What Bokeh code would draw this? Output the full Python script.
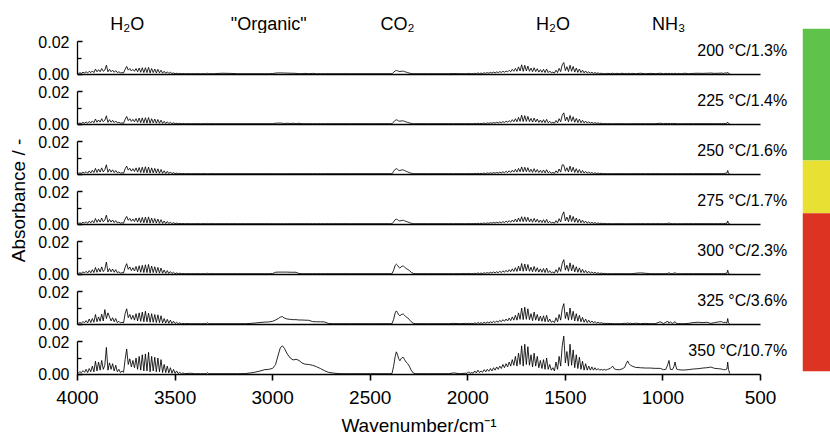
import numpy as np
from bokeh.plotting import figure
from bokeh.models import Range1d, LinearAxis, FixedTicker, PrintfTickFormatter
from bokeh.layouts import row, column
from bokeh.embed import file_html
from bokeh.resources import INLINE
from bokeh.core.properties import value

FONT = "Liberation Sans"

# ---------------------------------------------------------------- data
panel_labels = ["200 °C/1.3%", "225 °C/1.4%", "250 °C/1.6%", "275 °C/1.7%",
                "300 °C/2.3%", "325 °C/3.6%", "350 °C/10.7%"]
band_labels = ["H\u2082O", "\"Organic\"", "CO\u2082", "H\u2082O", "NH\u2083"]
band_centres = [3745, 3020, 2360, 1563, 971]
wavenumber_ticks = [4000, 3500, 3000, 2500, 2000, 1500, 1000, 500]
x_title = "Wavenumber/cm\u207b\u00b9"
y_title = "Absorbance / -"
stability_colours = ["#5fc34b", "#e9e034", "#dc3323"]

# sampling grids (cm-1); absorbance values below are in milli-absorbance units
water_hi_wn = np.arange(3996, 3451, -8)          # 69 points
water_lo_wn = np.arange(2004, 1291, -8)          # 90 points
mid_wn = [3444, 3420, 3400, 3370, 3340, 3334, 3328, 3300, 3260, 3220,
          3180, 3140, 3100, 3070, 3040, 3020, 3000, 2985, 2970, 2960,
          2950, 2940, 2925, 2910, 2895, 2880, 2865, 2850, 2835, 2815,
          2795, 2775, 2755, 2735, 2715, 2695, 2675, 2650, 2600, 2500,
          2400, 2388, 2380, 2372, 2366, 2360, 2354, 2348, 2342, 2336,
          2330, 2324, 2316, 2308, 2300, 2290, 2280, 2270, 2200, 2100,
          2072, 2040, 2012]
tail_wn = [1284, 1270, 1258, 1248, 1236, 1222, 1210, 1196, 1188, 1181,
           1174, 1166, 1158, 1140, 1116, 1090, 1065, 1040, 1014, 997,
           985, 975, 969, 962, 952, 944, 938, 930, 920, 905,
           890, 870, 845, 820, 795, 775, 755, 735, 715, 700,
           690, 680, 672, 668, 664, 658]

# 200 °C
hi_200 = [0.5, 0.8, 0.6, 1.2, 0.8, 1.5, 0.8, 1.8, 1.0, 2.0,
          1.0, 3.2, 1.5, 2.8, 1.5, 3.5, 1.8, 2.5, 5.5, 1.5,
          3.0, 1.5, 2.5, 1.2, 2.2, 1.0, 1.5, 0.8, 1.0, 0.8,
          3.0, 4.8, 2.5, 3.5, 2.0, 3.0, 1.8, 3.5, 1.5, 3.8,
          1.2, 4.0, 1.0, 4.0, 1.0, 4.2, 0.8, 3.5, 1.0, 3.2,
          0.8, 3.0, 0.8, 2.5, 0.6, 1.8, 0.5, 1.5, 0.5, 1.2,
          0.4, 0.8, 0.3, 0.6, 0.3, 0.5, 0.3, 0.4, 0.3]
mid_200 = [0.3, 0.3, 0.3, 0.3, 0.3, 0.6, 0.3, 0.3, 0.6, 0.5,
           0.3, 0.3, 0.3, 0.3, 0.3, 0.3, 0.4, 0.7, 0.8, 0.8,
           0.8, 0.7, 0.7, 0.6, 0.6, 0.5, 0.3, 0.3, 0.5, 0.3,
           0.5, 0.3, 0.3, 0.3, 0.3, 0.3, 0.3, 0.3, 0.3, 0.3,
           0.3, 0.3, 1.2, 2.0, 2.3, 2.1, 1.8, 1.6, 1.8, 1.9,
           1.8, 1.6, 1.3, 1.0, 0.7, 0.4, 0.3, 0.3, 0.3, 0.3,
           0.4, 0.3, 0.3]
lo_200 = [0.3, 0.5, 0.3, 0.4, 0.3, 0.6, 0.3, 0.8, 0.4, 0.7,
          0.4, 0.9, 0.5, 1.0, 0.6, 1.1, 0.7, 1.3, 0.8, 1.4,
          1.0, 1.6, 1.1, 1.8, 1.2, 2.0, 1.4, 2.4, 1.5, 3.0,
          1.8, 3.6, 1.8, 4.5, 2.0, 5.8, 1.8, 5.5, 2.0, 5.0,
          1.8, 3.8, 1.5, 4.0, 1.6, 3.4, 1.3, 2.8, 1.2, 3.0,
          1.0, 3.2, 1.0, 2.0, 0.8, 1.3, 0.7, 2.5, 1.0, 3.6,
          1.6, 5.8, 7.2, 2.2, 4.6, 1.6, 5.5, 1.8, 4.8, 1.3,
          3.8, 1.1, 3.2, 1.0, 2.5, 0.8, 2.0, 0.7, 1.5, 0.6,
          1.2, 0.5, 1.0, 0.5, 0.8, 0.4, 0.6, 0.3, 0.4, 0.3]
tail_200 = [0.5, 0.3, 0.6, 0.3, 0.5, 0.3, 0.6, 0.3, 0.5, 0.3,
            0.6, 0.3, 0.5, 0.3, 0.6, 0.3, 0.5, 0.3, 0.6, 0.3,
            0.5, 0.3, 0.6, 0.3, 0.5, 0.3, 0.6, 0.3, 0.5, 0.3,
            0.6, 0.3, 0.5, 0.6, 0.5, 0.6, 0.7, 0.5, 0.6, 0.7,
            0.5, 0.8, 0.6, 1.2, 0.5, 0.3]

# 225 °C
hi_225 = [0.5, 0.7, 0.5, 1.1, 0.6, 1.4, 0.6, 1.7, 0.8, 2.0,
          0.9, 3.2, 1.2, 2.6, 1.3, 3.4, 1.5, 2.4, 5.2, 1.1,
          2.8, 1.2, 2.4, 1.0, 2.0, 0.8, 1.2, 0.6, 0.8, 0.6,
          3.0, 4.8, 2.2, 3.4, 1.7, 3.0, 1.5, 3.4, 1.2, 3.8,
          0.9, 3.9, 0.8, 4.0, 0.7, 4.1, 0.6, 3.4, 0.8, 3.2,
          0.6, 2.9, 0.6, 2.5, 0.5, 1.8, 0.4, 1.5, 0.4, 1.2,
          0.3, 0.9, 0.3, 0.6, 0.3, 0.5, 0.3, 0.4, 0.3]
mid_225 = [0.3, 0.3, 0.3, 0.3, 0.3, 0.5, 0.3, 0.3, 0.3, 0.3,
           0.3, 0.3, 0.3, 0.3, 0.3, 0.3, 0.3, 0.6, 0.7, 0.7,
           0.6, 0.4, 0.6, 0.4, 0.6, 0.3, 0.6, 0.3, 0.3, 0.3,
           0.3, 0.3, 0.3, 0.3, 0.3, 0.3, 0.3, 0.3, 0.3, 0.3,
           0.3, 0.3, 1.4, 2.4, 2.7, 2.4, 2.0, 1.8, 2.0, 2.1,
           2.0, 1.8, 1.4, 1.1, 0.8, 0.5, 0.3, 0.3, 0.3, 0.3,
           0.3, 0.3, 0.3]
lo_225 = [0.3, 0.4, 0.3, 0.3, 0.3, 0.5, 0.3, 0.6, 0.3, 0.5,
          0.4, 0.7, 0.4, 0.8, 0.5, 0.9, 0.6, 1.0, 0.7, 1.2,
          0.8, 1.4, 0.9, 1.6, 1.0, 1.9, 1.2, 2.2, 1.3, 2.8,
          1.5, 3.4, 1.5, 4.2, 1.7, 5.6, 1.6, 5.3, 1.7, 4.8,
          1.6, 3.6, 1.3, 3.8, 1.4, 3.2, 1.1, 2.6, 1.0, 2.8,
          0.9, 3.0, 0.9, 1.8, 0.7, 1.2, 0.6, 2.3, 0.9, 3.4,
          1.5, 5.5, 7.0, 2.1, 4.4, 1.5, 5.4, 1.7, 4.6, 1.2,
          3.6, 1.0, 3.1, 0.9, 2.4, 0.8, 1.9, 0.7, 1.5, 0.6,
          1.2, 0.5, 1.0, 0.5, 0.8, 0.4, 0.6, 0.3, 0.4, 0.3]
tail_225 = [0.3, 0.3, 0.3, 0.3, 0.3, 0.3, 0.3, 0.3, 0.3, 0.3,
            0.3, 0.3, 0.3, 0.3, 0.3, 0.3, 0.3, 0.3, 0.6, 0.3,
            0.5, 0.3, 0.6, 0.3, 0.5, 0.3, 0.5, 0.3, 0.3, 0.3,
            0.3, 0.3, 0.3, 0.3, 0.3, 0.3, 0.3, 0.3, 0.3, 0.3,
            0.3, 0.5, 0.6, 1.2, 0.5, 0.3]

# 250 °C
hi_250 = [0.5, 0.8, 0.6, 1.3, 0.7, 1.6, 0.6, 2.0, 0.8, 2.4,
          1.0, 3.6, 1.1, 3.2, 1.3, 3.9, 1.4, 2.8, 5.8, 1.2,
          3.1, 1.3, 2.7, 1.0, 2.3, 0.8, 1.4, 0.6, 0.9, 0.6,
          3.3, 5.0, 2.5, 3.7, 1.9, 3.4, 1.7, 3.9, 1.3, 4.1,
          1.0, 4.3, 0.9, 4.6, 0.8, 4.4, 0.7, 3.9, 0.8, 3.6,
          0.7, 3.3, 0.6, 2.9, 0.5, 2.1, 0.4, 1.8, 0.4, 1.4,
          0.3, 1.0, 0.3, 0.7, 0.3, 0.5, 0.3, 0.4, 0.3]
mid_250 = [0.3, 0.3, 0.3, 0.3, 0.3, 0.3, 0.3, 0.3, 0.3, 0.3,
           0.3, 0.3, 0.3, 0.3, 0.3, 0.3, 0.3, 0.3, 0.3, 0.3,
           0.3, 0.3, 0.3, 0.3, 0.3, 0.3, 0.3, 0.3, 0.3, 0.3,
           0.3, 0.3, 0.3, 0.3, 0.3, 0.3, 0.3, 0.3, 0.3, 0.3,
           0.3, 0.3, 1.8, 3.0, 3.4, 3.0, 2.4, 2.2, 2.5, 2.7,
           2.6, 2.3, 1.8, 1.4, 1.0, 0.6, 0.3, 0.3, 0.3, 0.3,
           0.3, 0.3, 0.3]
lo_250 = [0.3, 0.4, 0.3, 0.4, 0.3, 0.5, 0.3, 0.6, 0.3, 0.5,
          0.4, 0.7, 0.4, 0.8, 0.5, 0.9, 0.5, 1.0, 0.6, 1.1,
          0.7, 1.3, 0.8, 1.5, 0.9, 1.8, 1.0, 2.1, 1.1, 2.5,
          1.3, 3.0, 1.3, 3.6, 1.5, 4.5, 1.4, 4.3, 1.5, 4.0,
          1.3, 3.1, 1.1, 3.4, 1.2, 2.9, 1.0, 2.4, 0.9, 2.6,
          0.8, 2.8, 0.8, 1.7, 0.6, 1.1, 0.6, 2.1, 0.8, 3.2,
          1.3, 5.8, 5.6, 1.8, 4.0, 1.4, 5.0, 1.5, 4.3, 1.1,
          3.4, 0.9, 2.9, 0.8, 2.3, 0.7, 1.7, 0.6, 1.4, 0.5,
          1.1, 0.4, 0.9, 0.4, 0.7, 0.3, 0.6, 0.3, 0.4, 0.3]
tail_250 = [0.3, 0.3, 0.3, 0.3, 0.3, 0.3, 0.3, 0.3, 0.3, 0.3,
            0.3, 0.3, 0.3, 0.3, 0.3, 0.3, 0.3, 0.3, 0.3, 0.3,
            0.3, 0.3, 0.3, 0.3, 0.3, 0.3, 0.3, 0.3, 0.3, 0.3,
            0.3, 0.3, 0.3, 0.3, 0.3, 0.3, 0.3, 0.3, 0.3, 0.3,
            0.3, 0.6, 0.8, 2.3, 0.6, 0.3]

# 275 °C
hi_275 = [0.5, 0.8, 0.5, 1.2, 0.7, 1.5, 0.6, 1.9, 0.8, 2.2,
          0.9, 3.5, 1.2, 3.0, 1.3, 3.8, 1.5, 2.6, 5.6, 1.2,
          3.0, 1.3, 2.6, 1.0, 2.2, 0.8, 1.3, 0.6, 0.9, 0.6,
          3.2, 4.8, 2.4, 3.6, 1.8, 3.2, 1.6, 3.8, 1.3, 4.0,
          1.0, 4.2, 0.9, 4.4, 0.8, 4.5, 0.7, 3.8, 0.8, 3.5,
          0.7, 3.2, 0.6, 2.8, 0.5, 2.0, 0.4, 1.7, 0.4, 1.3,
          0.3, 1.0, 0.3, 0.7, 0.3, 0.5, 0.3, 0.4, 0.3]
mid_275 = [0.3, 0.3, 0.3, 0.3, 0.3, 0.5, 0.3, 0.3, 0.3, 0.3,
           0.3, 0.3, 0.3, 0.3, 0.3, 0.3, 0.3, 0.3, 0.3, 0.3,
           0.3, 0.3, 0.3, 0.3, 0.3, 0.3, 0.3, 0.3, 0.3, 0.3,
           0.3, 0.3, 0.3, 0.3, 0.3, 0.3, 0.3, 0.3, 0.3, 0.3,
           0.3, 0.3, 1.5, 2.8, 3.1, 2.8, 2.2, 2.0, 2.2, 2.4,
           2.4, 2.1, 1.7, 1.4, 1.0, 0.6, 0.3, 0.3, 0.3, 0.3,
           0.3, 0.3, 0.3]
lo_275 = [0.3, 0.4, 0.3, 0.4, 0.3, 0.5, 0.3, 0.6, 0.3, 0.6,
          0.4, 0.8, 0.4, 0.8, 0.5, 1.0, 0.6, 1.1, 0.7, 1.2,
          0.8, 1.4, 0.9, 1.6, 1.0, 1.9, 1.1, 2.2, 1.2, 2.6,
          1.4, 3.2, 1.4, 3.8, 1.6, 4.6, 1.5, 4.5, 1.6, 4.2,
          1.4, 3.3, 1.2, 3.6, 1.3, 3.1, 1.1, 2.6, 1.0, 2.8,
          0.9, 3.0, 0.8, 1.8, 0.7, 1.2, 0.6, 2.2, 0.8, 3.4,
          1.4, 5.6, 7.6, 2.0, 4.4, 1.5, 5.6, 1.6, 4.8, 1.2,
          3.8, 1.0, 3.2, 0.9, 2.5, 0.8, 1.9, 0.6, 1.5, 0.5,
          1.2, 0.5, 1.0, 0.4, 0.8, 0.4, 0.6, 0.3, 0.5, 0.3]
tail_275 = [0.3, 0.3, 0.3, 0.3, 0.3, 0.3, 0.3, 0.3, 0.3, 0.3,
            0.3, 0.3, 0.3, 0.3, 0.3, 0.3, 0.3, 0.3, 0.3, 0.3,
            0.3, 0.5, 0.8, 0.4, 0.3, 0.3, 0.3, 0.3, 0.3, 0.3,
            0.3, 0.3, 0.3, 0.3, 0.3, 0.3, 0.3, 0.3, 0.3, 0.3,
            0.3, 0.5, 0.6, 2.0, 0.5, 0.3]

# 300 °C
hi_300 = [0.5, 0.9, 0.6, 1.4, 0.8, 1.8, 0.7, 2.2, 0.9, 2.8,
          1.0, 4.2, 1.2, 3.6, 1.4, 4.5, 1.6, 3.0, 7.5, 1.4,
          3.5, 1.5, 3.2, 1.2, 2.8, 0.9, 1.5, 0.6, 1.0, 0.7,
          4.2, 6.5, 3.0, 4.5, 2.2, 4.0, 2.0, 4.8, 1.5, 5.2,
          1.2, 5.5, 1.0, 5.8, 1.0, 6.0, 0.8, 5.0, 1.0, 4.6,
          0.8, 4.2, 0.7, 3.8, 0.6, 2.6, 0.5, 2.2, 0.4, 1.6,
          0.4, 1.2, 0.3, 0.8, 0.3, 0.6, 0.3, 0.4, 0.3]
mid_300 = [0.3, 0.3, 0.3, 0.3, 0.3, 0.6, 0.3, 0.3, 0.3, 0.3,
           0.3, 0.3, 0.3, 0.3, 0.3, 0.3, 0.4, 1.2, 1.3, 1.3,
           1.3, 1.3, 1.3, 1.2, 1.2, 1.2, 0.4, 0.3, 0.3, 0.3,
           0.3, 0.3, 0.3, 0.3, 0.3, 0.3, 0.3, 0.3, 0.3, 0.3,
           0.3, 0.4, 2.5, 5.5, 6.2, 5.5, 4.3, 3.8, 4.5, 5.0,
           5.0, 4.4, 3.5, 3.0, 2.3, 1.2, 0.5, 0.3, 0.3, 0.3,
           0.3, 0.3, 0.4]
lo_300 = [0.3, 0.5, 0.3, 0.4, 0.3, 0.6, 0.3, 0.8, 0.4, 0.7,
          0.4, 0.9, 0.5, 1.0, 0.6, 1.2, 0.7, 1.4, 0.8, 1.5,
          0.9, 1.8, 1.0, 2.1, 1.2, 2.4, 1.3, 2.8, 1.5, 3.3,
          1.7, 4.0, 1.7, 5.0, 2.0, 6.6, 1.8, 6.3, 2.0, 6.0,
          1.8, 4.3, 1.5, 4.8, 1.6, 4.0, 1.3, 3.3, 1.2, 3.5,
          1.0, 3.8, 1.0, 2.2, 0.8, 1.4, 0.7, 2.8, 1.0, 4.2,
          1.7, 6.8, 9.0, 2.5, 5.5, 1.8, 7.0, 2.0, 5.8, 1.4,
          4.6, 1.2, 3.9, 1.0, 3.0, 0.9, 2.3, 0.7, 1.8, 0.6,
          1.4, 0.6, 1.1, 0.5, 0.9, 0.4, 0.7, 0.4, 0.5, 0.3]
tail_300 = [0.3, 0.3, 0.3, 0.3, 0.3, 0.3, 0.3, 0.3, 0.3, 0.3,
            0.3, 0.3, 0.3, 0.6, 0.8, 0.6, 0.3, 0.3, 0.3, 0.3,
            0.3, 0.5, 0.9, 0.4, 0.3, 0.6, 0.9, 0.3, 0.3, 0.3,
            0.3, 0.3, 0.3, 0.3, 0.3, 0.3, 0.3, 0.3, 0.3, 0.3,
            0.3, 0.5, 0.6, 2.5, 0.5, 0.3]

# 325 °C
hi_325 = [0.6, 1.0, 0.7, 1.6, 0.9, 2.2, 0.8, 3.2, 1.0, 3.5,
          1.2, 6.0, 1.5, 4.5, 1.8, 6.2, 2.0, 9.0, 3.5, 7.0,
          4.5, 2.0, 4.0, 1.5, 3.5, 1.0, 1.8, 0.8, 1.2, 0.8,
          6.5, 9.5, 4.0, 6.0, 3.0, 5.5, 2.5, 6.5, 2.0, 7.0,
          1.8, 7.5, 1.5, 8.0, 1.5, 6.8, 1.2, 6.5, 1.2, 6.0,
          1.0, 5.8, 1.0, 5.2, 0.8, 3.5, 0.7, 3.0, 0.6, 2.5,
          0.5, 1.8, 0.4, 1.2, 0.3, 0.8, 0.3, 0.5, 0.3]
mid_325 = [0.4, 0.3, 0.3, 0.3, 0.3, 0.9, 0.3, 0.3, 0.3, 0.3,
           0.3, 0.3, 0.6, 1.0, 1.3, 1.4, 1.8, 2.6, 3.6, 4.4,
           4.7, 3.8, 3.2, 3.0, 2.8, 2.8, 2.6, 2.6, 2.5, 2.4,
           1.6, 1.5, 1.5, 1.4, 0.5, 0.3, 0.3, 0.3, 0.3, 0.3,
           0.3, 0.4, 3.0, 7.0, 8.2, 7.2, 5.8, 5.2, 5.8, 6.2,
           6.2, 5.5, 4.5, 3.8, 3.0, 1.5, 0.6, 0.3, 0.3, 0.3,
           0.5, 0.3, 0.5]
lo_325 = [0.3, 0.6, 0.3, 0.5, 0.3, 0.8, 0.4, 1.0, 0.5, 0.9,
          0.5, 1.2, 0.6, 1.3, 0.8, 1.5, 0.9, 1.8, 1.0, 2.0,
          1.2, 2.4, 1.5, 2.8, 1.8, 3.2, 2.0, 3.8, 2.2, 4.5,
          2.5, 5.5, 2.5, 7.0, 3.0, 10.0, 2.8, 10.5, 3.0, 9.5,
          2.8, 6.5, 2.2, 7.5, 2.5, 6.0, 2.0, 5.0, 1.8, 5.2,
          1.5, 5.5, 1.4, 3.2, 1.2, 2.0, 1.0, 4.0, 1.5, 6.0,
          2.5, 9.5, 12.7, 3.5, 7.5, 2.5, 10.0, 2.8, 8.0, 2.0,
          6.5, 1.8, 5.5, 1.5, 4.2, 1.2, 3.2, 1.0, 2.5, 0.9,
          2.0, 0.8, 1.6, 0.7, 1.2, 0.6, 0.9, 0.5, 0.6, 0.4]
tail_325 = [0.5, 0.4, 0.4, 0.3, 0.3, 0.3, 0.3, 0.6, 0.4, 0.8,
            0.4, 0.6, 0.3, 0.6, 0.3, 0.5, 0.3, 0.3, 1.5, 0.4,
            1.2, 1.8, 0.6, 1.5, 0.5, 1.0, 1.6, 0.4, 0.4, 0.3,
            0.3, 0.5, 1.0, 1.2, 1.0, 1.2, 0.5, 1.0, 1.4, 1.6,
            1.0, 1.2, 0.8, 3.5, 0.8, 0.3]

# 350 °C
hi_350 = [0.8, 1.5, 1.0, 2.2, 1.2, 3.0, 1.0, 3.5, 1.5, 5.0,
          1.5, 8.0, 2.0, 7.5, 2.5, 8.5, 3.0, 5.5, 16.5, 2.5,
          7.0, 3.0, 6.5, 2.0, 5.5, 1.5, 3.0, 1.0, 2.0, 1.2,
          9.0, 15.5, 6.0, 9.5, 4.5, 8.5, 4.0, 10.0, 3.0, 11.0,
          2.5, 12.0, 2.0, 12.5, 2.0, 13.5, 1.5, 11.0, 2.0, 10.5,
          1.5, 10.0, 1.5, 9.0, 1.0, 6.0, 1.0, 5.0, 0.8, 4.0,
          0.6, 3.0, 0.5, 2.0, 0.4, 1.2, 0.3, 0.8, 0.3]
mid_350 = [0.4, 0.6, 0.3, 0.3, 0.3, 1.0, 0.3, 0.3, 0.3, 0.3,
           0.3, 0.4, 1.0, 1.8, 2.8, 3.0, 3.6, 6.0, 12.5, 16.5,
           17.5, 16.0, 12.5, 10.0, 8.8, 9.2, 8.5, 7.0, 6.2, 6.0,
           5.5, 4.6, 3.5, 2.2, 1.2, 0.8, 0.5, 0.3, 0.3, 0.3,
           0.3, 0.5, 5.0, 11.0, 13.8, 12.0, 9.5, 8.3, 9.5, 10.3,
           10.3, 9.0, 7.5, 6.5, 5.0, 2.5, 0.8, 0.3, 0.3, 0.3,
           0.8, 0.3, 0.6]
lo_350 = [0.5, 1.5, 0.5, 1.0, 0.6, 2.0, 0.8, 2.5, 1.0, 2.0,
          1.2, 2.8, 1.5, 3.0, 1.8, 3.5, 2.0, 4.0, 2.5, 4.5,
          3.0, 5.0, 3.5, 6.0, 4.0, 6.5, 4.5, 7.5, 5.0, 9.0,
          5.5, 11.0, 5.0, 13.0, 6.0, 17.5, 5.0, 18.5, 6.0, 17.0,
          5.5, 12.0, 4.5, 13.0, 5.0, 11.0, 4.0, 8.5, 3.5, 9.0,
          3.0, 10.0, 3.0, 6.0, 2.5, 4.0, 2.0, 7.5, 3.0, 11.0,
          5.0, 17.5, 23.5, 7.0, 14.0, 5.0, 18.5, 5.5, 15.0, 4.0,
          12.0, 3.5, 10.5, 3.0, 8.0, 2.5, 6.5, 2.5, 5.0, 2.5,
          4.5, 2.5, 4.0, 2.5, 3.5, 2.5, 3.0, 2.5, 3.0, 2.5]
tail_350 = [3.0, 3.5, 5.0, 3.2, 2.8, 2.8, 3.2, 4.2, 6.5, 8.2,
            6.5, 5.5, 5.0, 4.2, 4.0, 3.8, 3.8, 3.6, 3.6, 2.8,
            3.0, 6.0, 8.5, 3.0, 2.8, 4.5, 7.5, 3.2, 2.8, 2.6,
            2.6, 2.8, 3.2, 3.4, 3.8, 4.0, 4.4, 3.6, 3.4, 3.2,
            2.8, 2.8, 3.2, 7.5, 3.0, 0.4]

spectra = [
    (hi_200, mid_200, lo_200, tail_200),
    (hi_225, mid_225, lo_225, tail_225),
    (hi_250, mid_250, lo_250, tail_250),
    (hi_275, mid_275, lo_275, tail_275),
    (hi_300, mid_300, lo_300, tail_300),
    (hi_325, mid_325, lo_325, tail_325),
    (hi_350, mid_350, lo_350, tail_350),
]

# ---------------------------------------------------------------- layout (px)
TOTAL_W, TOTAL_H = 830, 436
TITLE_W = 30            # column holding the rotated y title
CBAR_W = 28             # colour strip at the right edge
PANEL_W = TOTAL_W - TITLE_W - CBAR_W
BORDER_L = 47           # room for the y tick labels
FRAME_W = PANEL_W - BORDER_L
HEADER_H = 33
PANEL_H = 50
LAST_FRAME_H = 41       # last panel stops at its zero line
TICK_AREA_H = 37        # tick marks and tick labels under the last panel
FOOTER_H = TOTAL_H - HEADER_H - 6 * PANEL_H - LAST_FRAME_H - TICK_AREA_H

PX_PER_WN = 683 / 3500          # 4000 -> 500 cm-1 across 683 px
PX_PER_ABS = 1620               # 0.02 absorbance -> ~32 px
BASE_FROM_TOP = 40.7            # zero line below the top of each panel

x_range = Range1d(4000, 4000 - FRAME_W / PX_PER_WN)
y_hi = BASE_FROM_TOP / PX_PER_ABS


def bare(p):
    p.outline_line_color = None
    p.title.visible = False
    p.grid.visible = False
    p.background_fill_color = "white"
    p.border_fill_color = "white"
    return p


def strip_figure(width, height, xr, yr, left=0):
    return bare(figure(width=width, height=height, x_range=xr, y_range=yr,
                       output_backend="svg", toolbar_location=None,
                       x_axis_location=None, y_axis_location=None,
                       min_border_left=left, min_border_right=0,
                       min_border_top=0, min_border_bottom=0))


def build_series(parts):
    hi, mid, lo, tail = parts
    for arr, grid in ((hi, water_hi_wn), (mid, mid_wn), (lo, water_lo_wn), (tail, tail_wn)):
        if len(arr) != len(grid):
            raise ValueError(f"length {len(arr)} != {len(grid)}")
    xs = np.concatenate([water_hi_wn, mid_wn, water_lo_wn, tail_wn]).astype(float)
    ys = np.concatenate([hi, mid, lo, tail]) / 1000.0   # mAbs -> absorbance
    return xs, ys


def style_text_axis(ax, size):
    ax.major_label_text_font = FONT
    ax.major_label_text_font_size = size
    ax.major_label_text_color = "black"


panels = []
for i, (label, parts) in enumerate(zip(panel_labels, spectra)):
    last = i == len(panel_labels) - 1
    frame_h = LAST_FRAME_H if last else PANEL_H
    bottom = TICK_AREA_H if last else 0
    p = figure(width=PANEL_W, height=frame_h + bottom,
               x_range=x_range,
               y_range=Range1d(y_hi - frame_h / PX_PER_ABS, y_hi),
               output_backend="svg", toolbar_location=None,
               x_axis_location=None, y_axis_location=None,
               min_border_left=BORDER_L, min_border_right=0,
               min_border_top=0, min_border_bottom=bottom)
    bare(p)
    xs, ys = build_series(parts)
    p.line(xs, ys, line_color="black", line_width=0.85)

    p.text(x=[363], y=[0.0148], text=[label], text_font=value(FONT),
           text_font_size="16px", text_color="black",
           text_align="right", text_baseline="middle")

    yax = LinearAxis(bounds=(0, 0.02),
                     ticker=FixedTicker(ticks=[0, 0.02], minor_ticks=[0.01]),
                     formatter=PrintfTickFormatter(format="%.2f"))
    yax.axis_line_width = 1.3
    yax.major_tick_in = 5
    yax.major_tick_out = 0
    yax.minor_tick_in = 4
    yax.minor_tick_out = 0
    yax.major_tick_line_width = 1.3
    yax.minor_tick_line_width = 1.3
    yax.major_label_standoff = 8
    style_text_axis(yax, "16px")
    p.add_layout(yax, "left")

    if last:
        xax = LinearAxis(bounds=(4000, 500),
                         ticker=FixedTicker(ticks=wavenumber_ticks, minor_ticks=[]),
                         formatter=PrintfTickFormatter(format="%d"))
        xax.axis_line_width = 1.6
        xax.major_tick_in = 0
        xax.major_tick_out = 6
        xax.major_tick_line_width = 1.6
        xax.major_label_standoff = 10
        style_text_axis(xax, "19px")
    else:
        # plain zero line across the spectral range
        xax = LinearAxis(fixed_location=0, bounds=(4000, 500),
                         ticker=FixedTicker(ticks=[], minor_ticks=[]))
        xax.axis_line_width = 1.6
        xax.major_label_text_font_size = "0px"
    p.add_layout(xax, "below")
    panels.append(p)

# band names above the first panel
header = strip_figure(PANEL_W, HEADER_H, x_range, Range1d(HEADER_H, 0), BORDER_L)
header.text(x=band_centres, y=[23] * len(band_centres), text=band_labels,
            text_font=value(FONT), text_font_size="18px", text_color="black",
            text_align="center", text_baseline="middle")

# x axis title, centred under the 4000-500 axis
footer = strip_figure(PANEL_W, FOOTER_H, x_range, Range1d(FOOTER_H, 0), BORDER_L)
footer.text(x=[(wavenumber_ticks[0] + wavenumber_ticks[-1]) / 2], y=[FOOTER_H / 2 + 1],
            text=[x_title], text_font=value(FONT), text_font_size="19px",
            text_color="black", text_align="center", text_baseline="middle")

# rotated y title
ytitle = strip_figure(TITLE_W, TOTAL_H, Range1d(0, TITLE_W), Range1d(0, TOTAL_H))
ytitle.text(x=[18], y=[TOTAL_H - 200], text=[y_title], angle=np.pi / 2,
            text_font=value(FONT), text_font_size="19px", text_color="black",
            text_align="center", text_baseline="middle")

# colour strip marking the stability class of each temperature step
strip_top = [28.3, 160.0, 212.7]
strip_bottom = [160.0, 212.7, 370.7]
cbar = strip_figure(CBAR_W, TOTAL_H, Range1d(0, 1), Range1d(TOTAL_H, 0))
cbar.quad(left=0, right=1, top=strip_top, bottom=strip_bottom,
          fill_color=stability_colours, line_color=None)

layout = row(ytitle, column(header, *panels, footer), cbar)

with open("out.html", "w") as f:
    f.write(file_html(layout, INLINE))
